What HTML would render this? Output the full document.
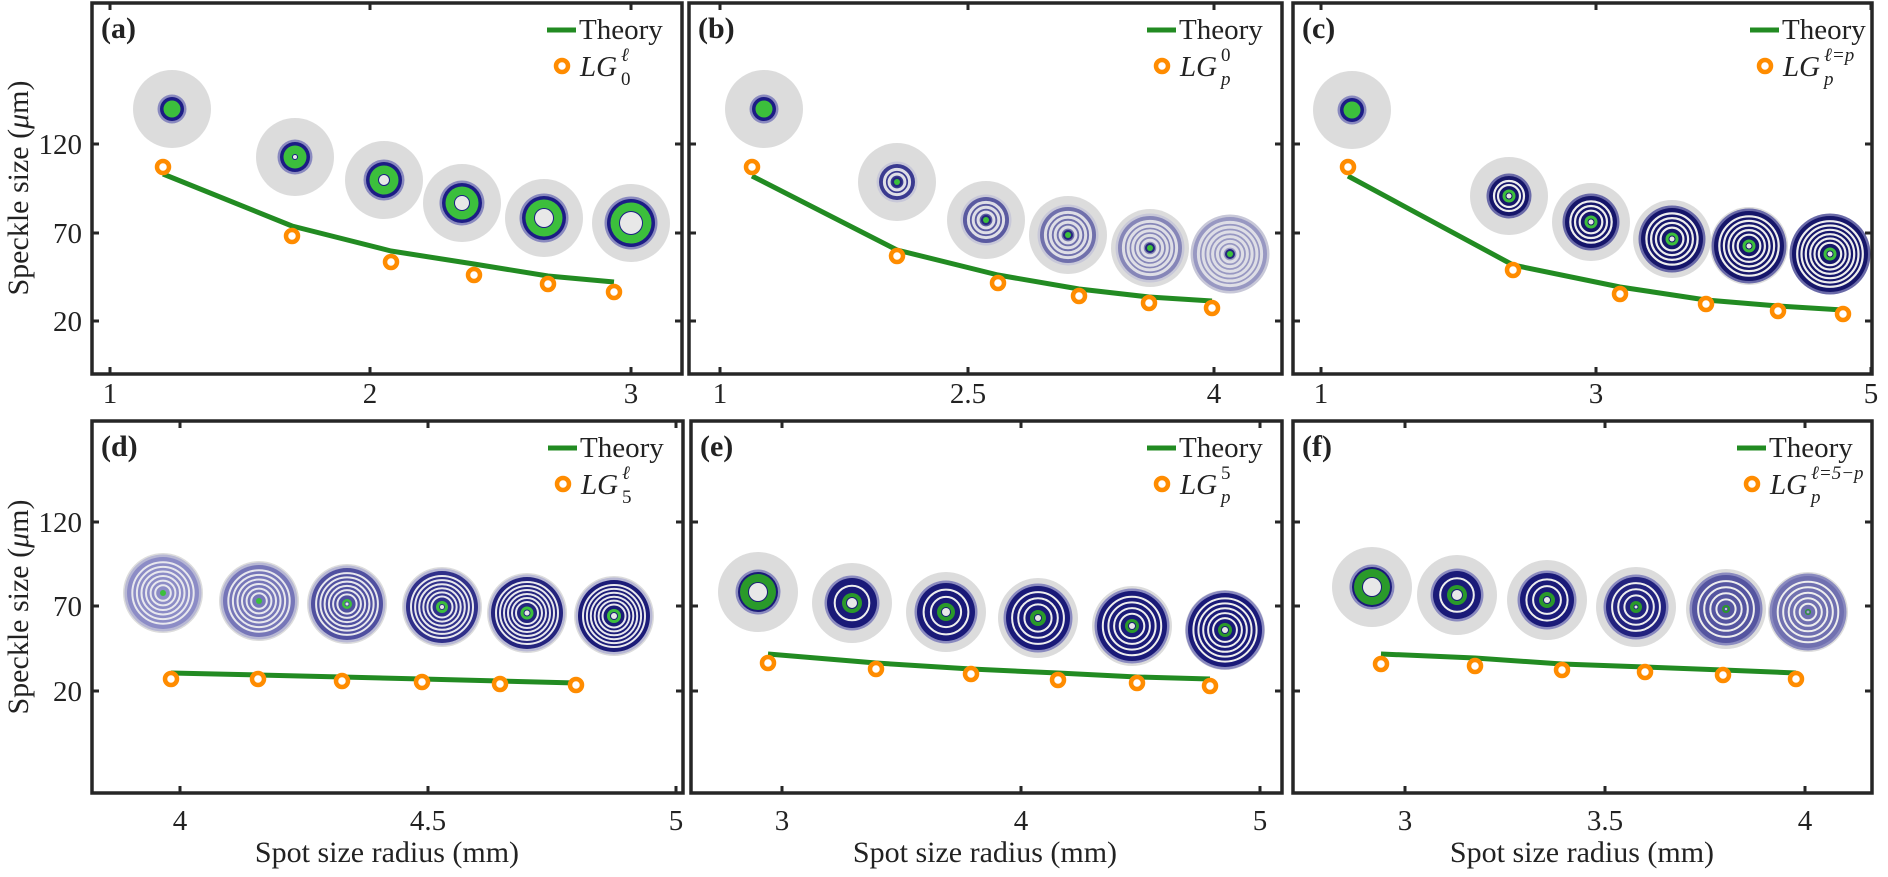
<!DOCTYPE html>
<html><head><meta charset="utf-8">
<style>
html,body{margin:0;padding:0;background:#fff;}
svg{display:block;font-family:"Liberation Serif","DejaVu Serif",serif;}
svg text{font-family:"Liberation Serif","DejaVu Serif",serif;fill:#222;}
</style></head>
<body>
<svg id="s" width="1888" height="877" viewBox="0 0 1888 877" xmlns="http://www.w3.org/2000/svg" font-family="Liberation Serif, DejaVu Serif, serif"></svg>
<script>
var s='';
var FF=' font-family="Liberation Serif, DejaVu Serif, serif"';
var panels=[
 {L:92,R:682,T:3,B:374,lab:'(a)',xt:[[110,'1'],[370,'2'],[631,'3']],leg:'a'},
 {L:689,R:1282,T:3,B:374,lab:'(b)',xt:[[720,'1'],[968,'2.5'],[1214,'4']],leg:'b'},
 {L:1293,R:1872,T:3,B:374,lab:'(c)',xt:[[1321,'1'],[1596,'3'],[1871,'5']],leg:'c'},
 {L:92,R:683,T:421,B:793,lab:'(d)',xt:[[180,'4'],[428,'4.5'],[676,'5']],leg:'d'},
 {L:691,R:1282,T:421,B:793,lab:'(e)',xt:[[782,'3'],[1021,'4'],[1260,'5']],leg:'e'},
 {L:1293,R:1872,T:421,B:793,lab:'(f)',xt:[[1405,'3'],[1605,'3.5'],[1805,'4']],leg:'f'}
];
var ytTop=[[144,'120'],[233,'70'],[321,'20']], ytBot=[[522,'120'],[606,'70'],[691,'20']];
function C(cx,cy,r,f,extra){return '<circle cx="'+cx+'" cy="'+cy+'" r="'+r+'" fill="'+f+'" '+(extra||'')+'/>';}
function spot(cx,cy,disc,o){
  var g=C(cx,cy,disc,'#dcdcdc');
  g+=C(cx,cy,o.out+2.5,o.edge||'#8a8abf');
  g+=C(cx,cy,o.out,o.blue);
  if(o.n>0){
    var a=o.g+2.5,b=o.out-3;
    for(var i=0;i<o.n;i++){var r=a+(i+0.5)*(b-a)/o.n;g+='<circle cx="'+cx+'" cy="'+cy+'" r="'+r.toFixed(1)+'" fill="none" stroke="'+(o.wc||'#e6e6ee')+'" stroke-width="'+(o.ww||2)+'"/>';}
  }
  if(o.g>0){g+=C(cx,cy,o.g,o.gc||'#3cbf3c');}
  if(o.g2){g+=C(cx,cy,o.g2,o.blue);}
  if(o.h>0){g+=C(cx,cy,o.h+1,o.blue)+C(cx,cy,o.h,'#e8e8e8');}
  return g;
}
var A=[[172,109],[295,157],[384,180],[462,203],[544,218],[631,223]],ro=[12,15,18,20,22,24],ri=[0,2,5,7,9,11];
A.forEach(function(p,k){s+=spot(p[0],p[1],39,{out:ro[k],blue:'#1c1c85',n:0,g:ro[k]-3.5,h:ri[k]});});
var Bc=[[764,109],[897,182],[986,220],[1068,235],[1150,248],[1230,254]],bo=[12,18,23,28,32,37],bb=['#1c1c85','#3a3a90','#5a5aa0','#7070ac','#8686b8','#9898c2'];
Bc.forEach(function(p,k){ if(k==0) s+=spot(p[0],p[1],39,{out:12,blue:'#1c1c85',n:0,g:8.5,h:0});
 else s+=spot(p[0],p[1],39,{out:bo[k],blue:bb[k],edge:'#c8c8d8',n:k+1,g:3,g2:0,h:0,ww:3,wc:'#dedee6'})+C(p[0],p[1],5,'#26267e')+C(p[0],p[1],3,'#3cbf3c');});
var Cc=[[1352,110],[1509,196],[1591,222],[1672,239],[1749,246],[1830,254]],co=[12,20,26,31,35,38],cn=[0,2,3,4,5,6];
Cc.forEach(function(p,k){ if(k==0) s+=spot(p[0],p[1],39,{out:12,blue:'#1c1c85',n:0,g:8.5,h:0});
 else s+=spot(p[0],p[1],39,{out:co[k],blue:'#16166a',edge:'#6a6aa8',n:cn[k],g:6.5,h:2.5,ww:2.2,wc:'#eeeeee'});});
var Dc=[[163,593],[259,601],[347,604],[442,607],[527,613],[614,616]],db=['#8c8cc6','#7676b8','#5050a0','#30308a','#24247e','#1c1c78'],dg=[3,3,5,6,6.5,7],dh=[0,0,1.5,2,2.5,3];
Dc.forEach(function(p,k){s+=spot(p[0],p[1],40,{out:36,blue:db[k],edge:'#b8b8d4',n:6,g:dg[k],h:dh[k],ww:2,wc:'#e8e8ee'});});
var Ec=[[758,592],[852,603],[946,612],[1038,618],[1132,626],[1225,630]],eo=[20,25,29,32,35,37],eg=[18,10,9,8,7,7],eh=[9,5,4,3,3,3];
Ec.forEach(function(p,k){s+=spot(p[0],p[1],40,{out:eo[k],blue:'#1a1a78',n:k,g:eg[k],gc:'#2a9a2a',h:eh[k],ww:2,wc:'#eeeeee'});});
var Fc=[[1372,587],[1457,595],[1547,600],[1636,607],[1726,609],[1808,612]],fo=[20,24,27,30,34,36],fg=[18,10,8,6,4,3],fh=[9,5,3,1.5,1,0.8],fb=['#1a1a78','#1a1a78','#1a1a78','#22227e','#5555a0','#7070b0'];
Fc.forEach(function(p,k){s+=spot(p[0],p[1],40,{out:fo[k],blue:fb[k],n:k,g:fg[k],gc:'#2a9a2a',h:fh[k],ww:2,wc:'#eeeeee'});});

var lines=[
 [[163,174],[292,226],[391,251],[474,264],[548,276],[614,282]],
 [[752,176],[897,250],[998,275],[1079,289],[1149,297],[1212,301]],
 [[1348,176],[1513,265],[1620,287],[1706,300],[1778,306],[1843,310]],
 [[171,673],[258,675],[342,677],[422,679],[500,681],[576,683]],
 [[768,654],[876,663],[971,669],[1058,673],[1137,677],[1210,679]],
 [[1381,654],[1475,658],[1562,664],[1645,667],[1723,670],[1796,673]]
];
var pts=[
 [[163,167],[292,236],[391,262],[474,275],[548,284],[614,292]],
 [[752,167],[897,256],[998,283],[1079,296],[1149,303],[1212,308]],
 [[1348,167],[1513,270],[1620,294],[1706,304],[1778,311],[1843,314]],
 [[171,679],[258,679],[342,681],[422,682],[500,684],[576,685]],
 [[768,663],[876,669],[971,674],[1058,680],[1137,683],[1210,686]],
 [[1381,664],[1475,666],[1562,670],[1645,672],[1723,675],[1796,679]]
];
lines.forEach(function(l){s+='<polyline points="'+l.map(function(q){return q.join(',')}).join(' ')+'" fill="none" stroke="#228b22" stroke-width="5" stroke-linejoin="round"/>';});
pts.forEach(function(l){l.forEach(function(q){s+='<circle cx="'+q[0]+'" cy="'+q[1]+'" r="6" fill="#fff" stroke="#ff8c00" stroke-width="4.5"/>';});});

function T(x,y,size,txt,extra){return '<text x="'+x+'" y="'+y+'" font-size="'+size+'"'+FF+' fill="#222" '+(extra||'')+'>'+txt+'</text>';}
panels.forEach(function(p,i){
  var top=i<3, yt=top?ytTop:ytBot;
  s+='<rect x="'+p.L+'" y="'+p.T+'" width="'+(p.R-p.L)+'" height="'+(p.B-p.T)+'" fill="none" stroke="#262626" stroke-width="3.5"/>';
  p.xt.forEach(function(t){
    s+='<line x1="'+t[0]+'" y1="'+p.B+'" x2="'+t[0]+'" y2="'+(p.B-7)+'" stroke="#262626" stroke-width="3"/>';
    s+='<line x1="'+t[0]+'" y1="'+p.T+'" x2="'+t[0]+'" y2="'+(p.T+7)+'" stroke="#262626" stroke-width="3"/>';
    s+=T(t[0],top?403:830,29,t[1],'text-anchor="middle"');
  });
  yt.forEach(function(t){
    s+='<line x1="'+p.L+'" y1="'+t[0]+'" x2="'+(p.L+7)+'" y2="'+t[0]+'" stroke="#262626" stroke-width="3"/>';
    s+='<line x1="'+p.R+'" y1="'+t[0]+'" x2="'+(p.R-7)+'" y2="'+t[0]+'" stroke="#262626" stroke-width="3"/>';
    if(p.L<100) s+=T(82,t[0]+10,29,t[1],'text-anchor="end"');
  });
  s+=T(p.L+9,p.T+35,30,p.lab,'font-weight="bold"');
  var c=(p.leg=='c'), R=p.R;
  var l1=c?R-122:R-135, mx=c?R-107:R-120;
  s+='<line x1="'+l1+'" y1="'+(p.T+27)+'" x2="'+(l1+29)+'" y2="'+(p.T+27)+'" stroke="#228b22" stroke-width="5"/>';
  s+=T(l1+32,p.T+36,29,'Theory');
  s+='<circle cx="'+mx+'" cy="'+(p.T+63)+'" r="6" fill="#fff" stroke="#ff8c00" stroke-width="4.5"/>';
  var sub,sup,subI=true;
  switch(p.leg){case 'a':sub='0';sup='ℓ';subI=false;break;case 'b':sub='p';sup='0';break;case 'c':sub='p';sup='ℓ=p';break;
   case 'd':sub='5';sup='ℓ';subI=false;break;case 'e':sub='p';sup='5';break;case 'f':sub='p';sup='ℓ=5−p';break;}
  var lx=c?R-89:R-102, supx=lx+41;
  s+=T(lx,p.T+73,29,'LG','font-style="italic"');
  s+=T(supx,p.T+58,19,sup,(sup.length>1||sup=='ℓ')?'font-style="italic"':'');
  s+=T(supx,p.T+82,19,sub,subI?'font-style="italic"':'');
});
s+='<text transform="translate(28,188) rotate(-90)" font-size="30"'+FF+' fill="#222" text-anchor="middle">Speckle size (<tspan font-style="italic">μ</tspan>m)</text>';
s+='<text transform="translate(28,607) rotate(-90)" font-size="30"'+FF+' fill="#222" text-anchor="middle">Speckle size (<tspan font-style="italic">μ</tspan>m)</text>';
[387,985,1582].forEach(function(x){s+=T(x,862,30,'Spot size radius (mm)','text-anchor="middle"');});
document.getElementById('s').innerHTML=s;
</script>
</body></html>
